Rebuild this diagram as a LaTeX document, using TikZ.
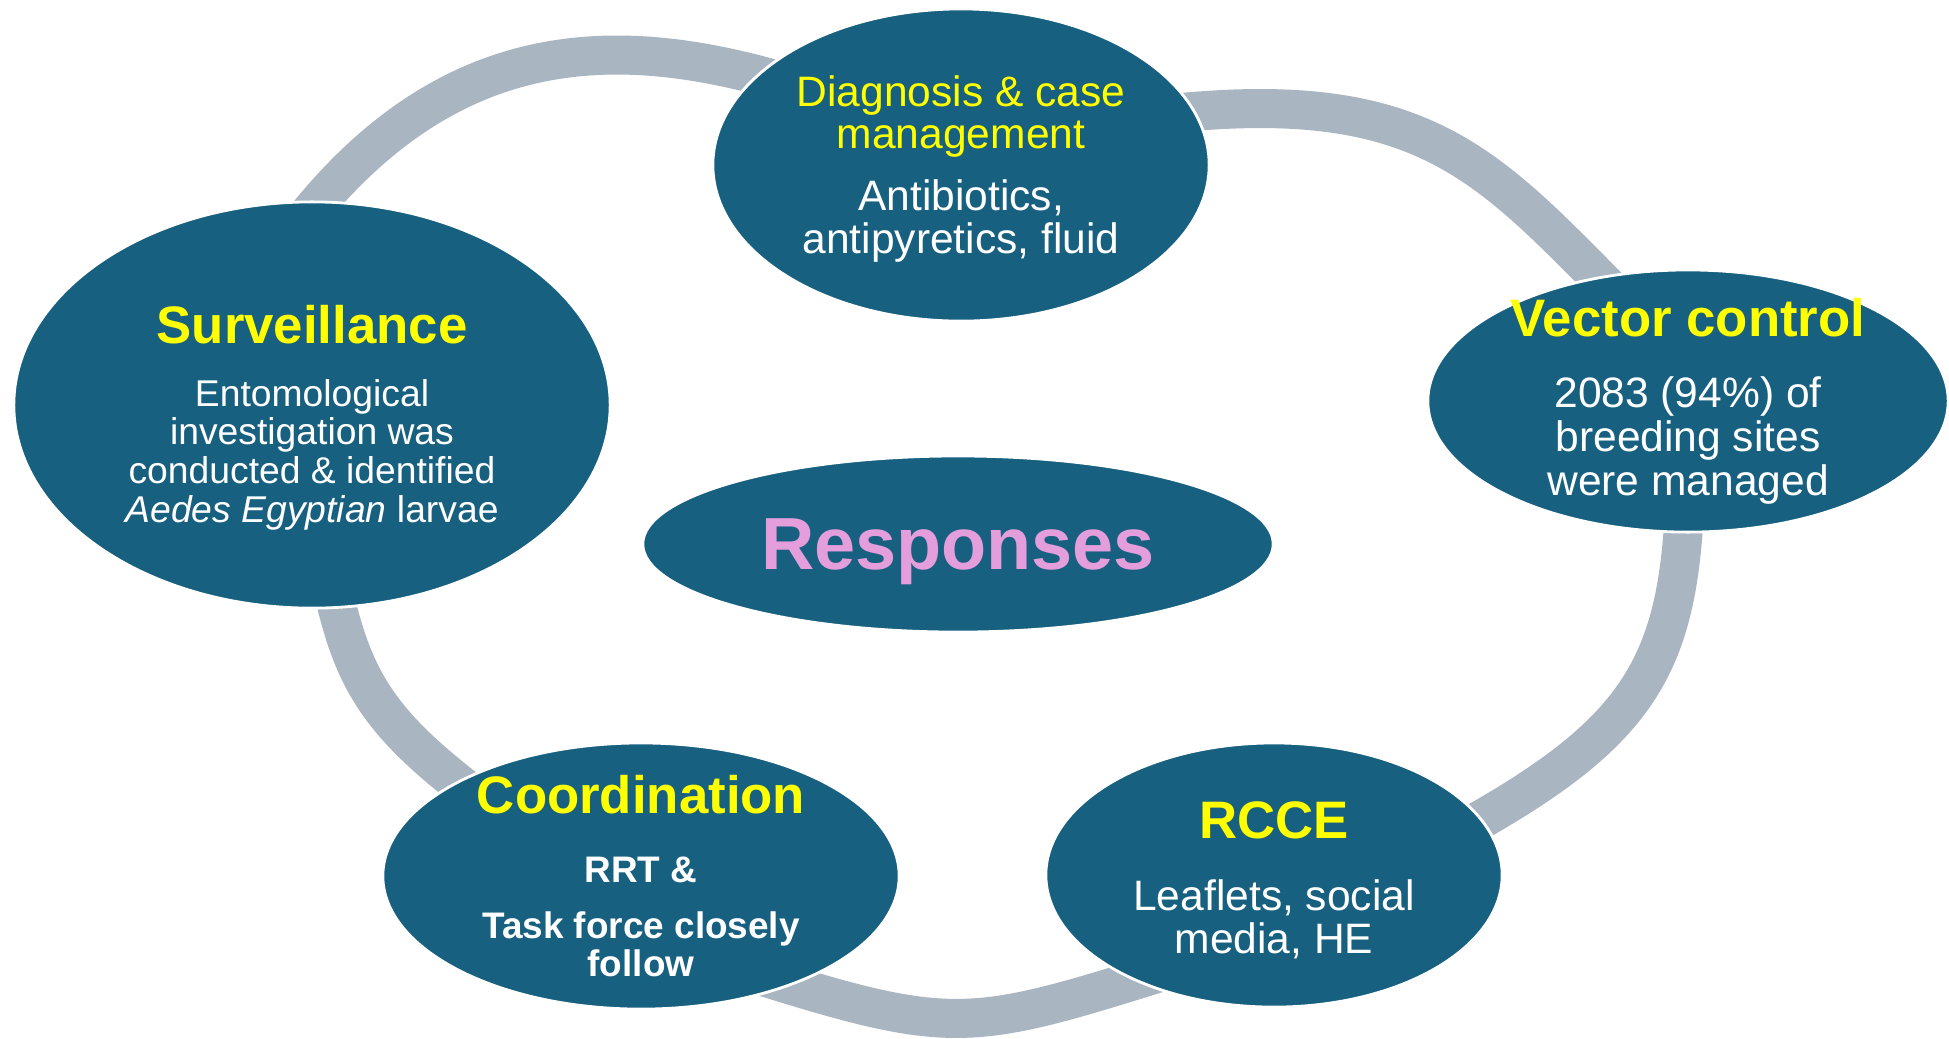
\documentclass[tikz,border=0pt]{standalone}
\usepackage{fontspec}
\setmainfont{Liberation Sans}
\usepackage{tikz}
\usetikzlibrary{shapes, backgrounds}
\definecolor{BubbleFill}{RGB}{24, 96, 128}
\definecolor{RingGrey}{RGB}{169, 181, 193}
\definecolor{TitleYellow}{RGB}{255, 255, 0}
\definecolor{HubPink}{RGB}{228, 158, 220}
\newcommand{\bubbletitle}[1]{\textcolor{TitleYellow}{\fontsize{15}{15}\selectfont\bfseries #1}}

\begin{document}
\begin{tikzpicture}[
        x=0.01cm, y=-0.01cm,
        bubble/.style={ellipse, fill=BubbleFill, draw=white, line width=0.8pt, text=white, align=center, inner sep=-3cm},
        ring/.style={RingGrey, line width=0.39cm, shorten <=-0.3cm, shorten >=-0.3cm}
    ]
    
    \useasboundingbox (0,0) rectangle (1949,1038);
    
    \node[bubble, minimum width=5.96cm, minimum height=4.06cm, font=\fontsize{10.6}{11}\selectfont] (surv) at (312,405) {\rule{0pt}{18.1pt}\bubbletitle{Surveillance}\\[6.8pt] Entomological\\ investigation was\\ conducted \& identified\\ \textit{Aedes Egyptian} larvae};
    \node[bubble, minimum width=4.96cm, minimum height=3.12cm, font=\fontsize{12.1}{12}\selectfont] (diag) at (961,165) {\rule{0pt}{11pt}\textcolor{TitleYellow}{Diagnosis \& case}\\ \textcolor{TitleYellow}{management}\\[5.6pt] Antibiotics,\\ antipyretics, fluid};
    \node[bubble, minimum width=5.2cm, minimum height=2.62cm, font=\fontsize{12.1}{12.5}\selectfont] (vec) at (1688,401) {\bubbletitle{Vector control}\\[7.7pt] 2083 (94\%) of\\ breeding sites\\ were managed};
    \node[bubble, minimum width=6.3cm, minimum height=1.76cm, text=HubPink, font=\fontsize{21}{21}\selectfont\bfseries] (hub) at (958,544) {\rule{0pt}{18.6pt}Responses};
    \node[bubble, minimum width=5.16cm, minimum height=2.66cm, font=\fontsize{10.5}{10.7}\selectfont\bfseries] (coord) at (641,876) {\bubbletitle{Coordination}\\[8.9pt] RRT \&\\[5.1pt] Task force closely\\ follow};
    \node[bubble, minimum width=4.56cm, minimum height=2.64cm, font=\fontsize{12.1}{12}\selectfont] (rcce) at (1274,875) {\rule{0pt}{13.5pt}\bubbletitle{RCCE}\\[8.5pt] Leaflets, social\\ media, HE};
    
    \begin{scope}[on background layer]
        \fill[white] (0,0) rectangle (1949,1038);
        \draw[ring] (surv.88) .. controls +(131,-167) and +(-139,-41) .. (diag.156);
        \draw[ring] (diag.13) .. controls +(230,-25) and +(-110,-110) .. (vec.126);
        \draw[ring] (vec.-92) .. controls +(-6,135) and +(155,-85) .. (rcce.15);
        \draw[ring] (rcce.217) .. controls +(-160,50) and +(160,50) .. (coord.-36);
        \draw[ring] (coord.153) .. controls +(-80,-60) and +(15,70) .. (surv.-83);
    \end{scope}
    
\end{tikzpicture}
\end{document}
